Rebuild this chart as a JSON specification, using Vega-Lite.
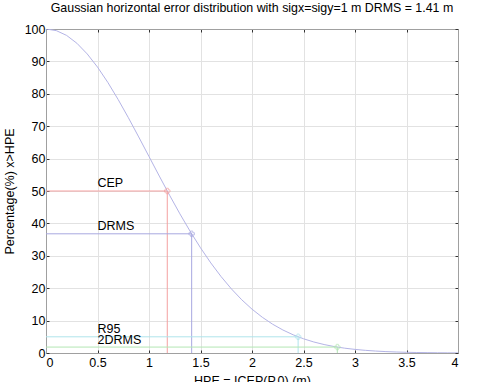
{
  "$schema": "https://vega.github.io/schema/vega-lite/v6.json",
  "width": 412,
  "height": 324,
  "autosize": "none",
  "padding": {"left": 46, "top": 29, "right": 22, "bottom": 29},
  "background": "white",
  "config": {
    "font": "Liberation Sans",
    "view": {"stroke": "#a0a0a0", "strokeWidth": 1},
    "axis": {
      "labelFont": "Liberation Sans",
      "titleFont": "Liberation Sans",
      "labelFontSize": 12.5,
      "titleFontSize": 12.5,
      "labelColor": "black",
      "titleColor": "black",
      "titleFontWeight": "normal",
      "gridColor": "#e2e2e2",
      "gridWidth": 1,
      "domainColor": "#a0a0a0",
      "tickColor": "#333333",
      "tickSize": -3,
      "tickWidth": 1
    }
  },
  "title": {
    "text": "Gaussian horizontal error distribution with sigx=sigy=1 m DRMS = 1.41 m",
    "fontSize": 12.4,
    "fontWeight": "normal",
    "font": "Liberation Sans",
    "color": "black",
    "offset": 9
  },
  "datasets": {
    "curve": [
      {"x": 0, "p": 100}, {"x": 0.1, "p": 99.5}, {"x": 0.2, "p": 98.02}, {"x": 0.3, "p": 95.6},
      {"x": 0.4, "p": 92.31}, {"x": 0.5, "p": 88.25}, {"x": 0.6, "p": 83.53}, {"x": 0.7, "p": 78.26},
      {"x": 0.8, "p": 72.61}, {"x": 0.9, "p": 66.69}, {"x": 1.0, "p": 60.65}, {"x": 1.1, "p": 54.61},
      {"x": 1.2, "p": 48.68}, {"x": 1.3, "p": 42.95}, {"x": 1.4, "p": 37.53}, {"x": 1.5, "p": 32.47},
      {"x": 1.6, "p": 27.8}, {"x": 1.7, "p": 23.58}, {"x": 1.8, "p": 19.79}, {"x": 1.9, "p": 16.44},
      {"x": 2.0, "p": 13.53}, {"x": 2.1, "p": 11.03}, {"x": 2.2, "p": 8.89}, {"x": 2.3, "p": 7.1},
      {"x": 2.4, "p": 5.61}, {"x": 2.5, "p": 4.39}, {"x": 2.6, "p": 3.4}, {"x": 2.7, "p": 2.61},
      {"x": 2.8, "p": 1.98}, {"x": 2.9, "p": 1.49}, {"x": 3.0, "p": 1.11}, {"x": 3.1, "p": 0.82},
      {"x": 3.2, "p": 0.6}, {"x": 3.3, "p": 0.43}, {"x": 3.4, "p": 0.31}, {"x": 3.5, "p": 0.22},
      {"x": 3.6, "p": 0.15}, {"x": 3.7, "p": 0.11}, {"x": 3.8, "p": 0.07}, {"x": 3.9, "p": 0.05},
      {"x": 4.0, "p": 0.03}
    ],
    "segs": [
      {"k": "CEP", "x": 0, "x2": 1.1774, "y": 50, "y2": 50},
      {"k": "CEP", "x": 1.1774, "x2": 1.1774, "y": 0, "y2": 50},
      {"k": "DRMS", "x": 0, "x2": 1.4142, "y": 36.79, "y2": 36.79},
      {"k": "DRMS", "x": 1.4142, "x2": 1.4142, "y": 0, "y2": 36.79},
      {"k": "R95", "x": 0, "x2": 2.4477, "y": 5, "y2": 5},
      {"k": "R95", "x": 2.4477, "x2": 2.4477, "y": 0, "y2": 5},
      {"k": "2DRMS", "x": 0, "x2": 2.8284, "y": 1.83, "y2": 1.83},
      {"k": "2DRMS", "x": 2.8284, "x2": 2.8284, "y": 0, "y2": 1.83}
    ],
    "pts": [
      {"k": "CEP", "x": 1.1774, "y": 50},
      {"k": "DRMS", "x": 1.4142, "y": 36.79},
      {"k": "R95", "x": 2.4477, "y": 5},
      {"k": "2DRMS", "x": 2.8284, "y": 1.83}
    ],
    "labels": [
      {"t": "CEP", "x": 0.5, "y": 52.6},
      {"t": "DRMS", "x": 0.5, "y": 39.3},
      {"t": "R95", "x": 0.5, "y": 7.5},
      {"t": "2DRMS", "x": 0.5, "y": 4.1}
    ]
  },
  "resolve": {"axis": {"x": "independent", "y": "independent"}},
  "layer": [
    {
      "layer": [
        {
          "data": {"name": "curve"},
          "mark": {"type": "line", "color": "#b4b4e6", "strokeWidth": 1, "clip": true},
          "encoding": {
            "x": {"field": "x", "type": "quantitative", "scale": {"domain": [0, 4], "nice": false},
                  "axis": {"title": "HPE = ICEP(P,0) (m)", "values": [0, 0.5, 1, 1.5, 2, 2.5, 3, 3.5, 4], "format": "~g", "labelPadding": 6, "titlePadding": 6, "grid": true}},
            "y": {"field": "p", "type": "quantitative", "scale": {"domain": [0, 100], "nice": false},
                  "axis": {"title": "Percentage(%) x>HPE", "values": [0, 10, 20, 30, 40, 50, 60, 70, 80, 90, 100], "format": "d", "labelPadding": 4, "titlePadding": 8, "grid": true}}
          }
        },
        {
          "data": {"name": "segs"},
          "mark": {"type": "rule", "strokeWidth": 1},
          "encoding": {
            "x": {"field": "x", "type": "quantitative", "axis": {"title": "HPE = ICEP(P,0) (m)", "values": [0, 0.5, 1, 1.5, 2, 2.5, 3, 3.5, 4], "format": "~g", "labelPadding": 6, "titlePadding": 6, "grid": true}},
            "x2": {"field": "x2"},
            "y": {"field": "y", "type": "quantitative", "axis": {"title": "Percentage(%) x>HPE", "values": [0, 10, 20, 30, 40, 50, 60, 70, 80, 90, 100], "format": "d", "labelPadding": 4, "titlePadding": 8, "grid": true}},
            "y2": {"field": "y2"},
            "color": {"field": "k", "type": "nominal", "legend": null,
                      "scale": {"domain": ["CEP", "DRMS", "R95", "2DRMS"], "range": ["#f4a0a0", "#a8a8e0", "#b0e4ec", "#b4e6b4"]}}
          }
        },
        {
          "data": {"name": "pts"},
          "mark": {"type": "point", "shape": "cross", "size": 30, "filled": false, "strokeWidth": 1},
          "encoding": {
            "x": {"field": "x", "type": "quantitative", "axis": {"title": "HPE = ICEP(P,0) (m)", "values": [0, 0.5, 1, 1.5, 2, 2.5, 3, 3.5, 4], "format": "~g", "labelPadding": 6, "titlePadding": 6, "grid": true}},
            "y": {"field": "y", "type": "quantitative", "axis": {"title": "Percentage(%) x>HPE", "values": [0, 10, 20, 30, 40, 50, 60, 70, 80, 90, 100], "format": "d", "labelPadding": 4, "titlePadding": 8, "grid": true}},
            "color": {"field": "k", "type": "nominal", "legend": null,
                      "scale": {"domain": ["CEP", "DRMS", "R95", "2DRMS"], "range": ["#f05050", "#5050c0", "#60c8e0", "#60c860"]}}
          }
        },
        {
          "data": {"name": "labels"},
          "mark": {"type": "text", "align": "left", "baseline": "middle", "fontSize": 12.5, "font": "Liberation Sans", "color": "black"},
          "encoding": {
            "x": {"field": "x", "type": "quantitative", "axis": {"title": "HPE = ICEP(P,0) (m)", "values": [0, 0.5, 1, 1.5, 2, 2.5, 3, 3.5, 4], "format": "~g", "labelPadding": 6, "titlePadding": 6, "grid": true}},
            "y": {"field": "y", "type": "quantitative", "axis": {"title": "Percentage(%) x>HPE", "values": [0, 10, 20, 30, 40, 50, 60, 70, 80, 90, 100], "format": "d", "labelPadding": 4, "titlePadding": 8, "grid": true}},
            "text": {"field": "t"}
          }
        }
      ]
    },
    {
      "data": {"name": "pts"},
      "mark": {"type": "point", "opacity": 0},
      "encoding": {
        "x": {"field": "x", "type": "quantitative", "axis": {"orient": "top", "title": null, "labels": false, "grid": false, "values": [0, 0.5, 1, 1.5, 2, 2.5, 3, 3.5, 4]}},
        "y": {"field": "y", "type": "quantitative", "axis": {"orient": "right", "title": null, "labels": false, "grid": false, "values": [0, 10, 20, 30, 40, 50, 60, 70, 80, 90, 100]}}
      }
    }
  ]
}
